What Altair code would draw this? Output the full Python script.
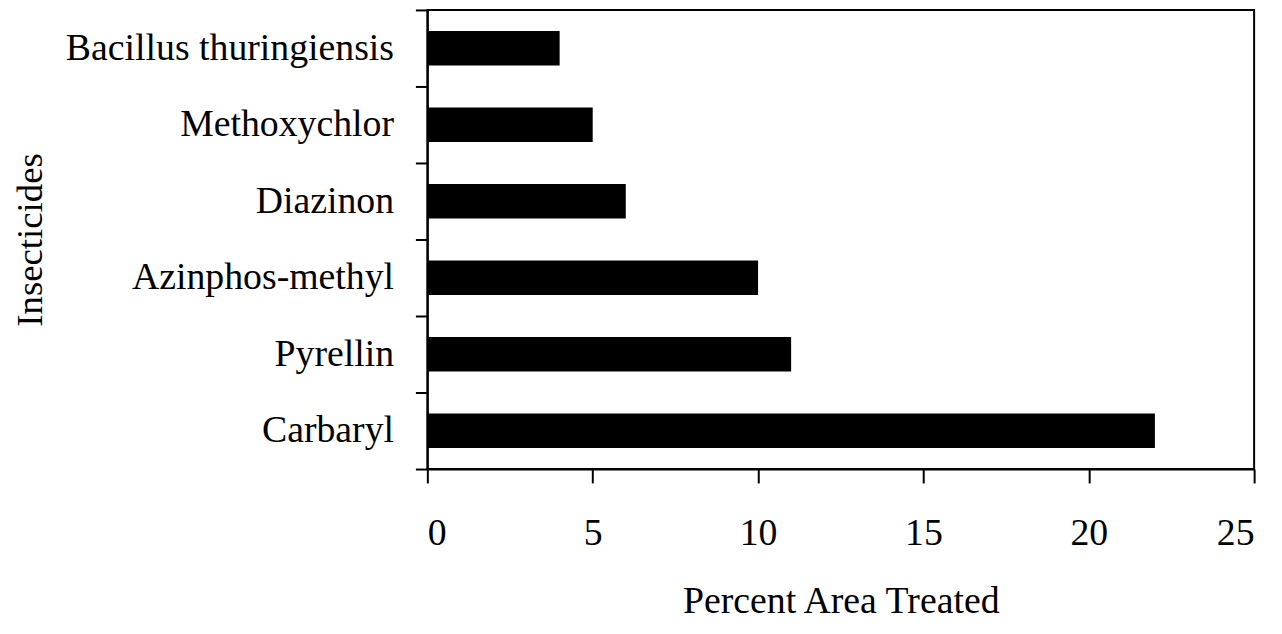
import altair as alt
import pandas as pd

insecticides = ["Bacillus thuringiensis", "Methoxychlor", "Diazinon",
                "Azinphos-methyl", "Pyrellin", "Carbaryl"]
percent_area = [4, 5, 6, 10, 11, 22]
x_ticks = [0, 5, 10, 15, 20, 25]

df = pd.DataFrame({"Insecticide": insecticides, "Percent": percent_area})

FONT = "Liberation Serif"

chart = alt.Chart(df).mark_bar(
    color="black", height=alt.RelativeBandSize(0.45)
).encode(
    x=alt.X("Percent:Q",
            scale=alt.Scale(domain=[0, 25], nice=False),
            axis=alt.Axis(values=x_ticks, title="Percent Area Treated",
                          grid=False, tickSize=14, tickWidth=2,
                          domainWidth=2, domainColor="black", tickColor="black",
                          labelPadding=32, titlePadding=30,
                          labelFontSize=38, titleFontSize=38,
                          labelFont=FONT, titleFont=FONT,
                          labelColor="black", titleColor="black",
                          titleFontWeight="normal")),
    y=alt.Y("Insecticide:N", sort=insecticides,
            scale=alt.Scale(paddingInner=0, paddingOuter=0),
            axis=alt.Axis(title="Insecticides", tickBand="extent",
                          tickSize=12, tickWidth=2, domainWidth=2,
                          domainColor="black", tickColor="black",
                          labelPadding=22,
                          titleX=-399, titleY=231, titleAngle=270,
                          titleAlign="center", titleBaseline="middle",
                          labelFontSize=38, titleFontSize=37,
                          labelFont=FONT, titleFont=FONT,
                          labelColor="black", titleColor="black",
                          titleFontWeight="normal", labelLimit=500)),
).properties(
    width=832, height=462,
    background="white",
    autosize=alt.AutoSizeParams(type="none"),
    padding={"left": 422, "top": 0, "right": 20, "bottom": 156},
).configure_view(
    stroke="black", strokeWidth=2
)

chart.save("out.html", embed_options={"renderer": "svg", "actions": False})
